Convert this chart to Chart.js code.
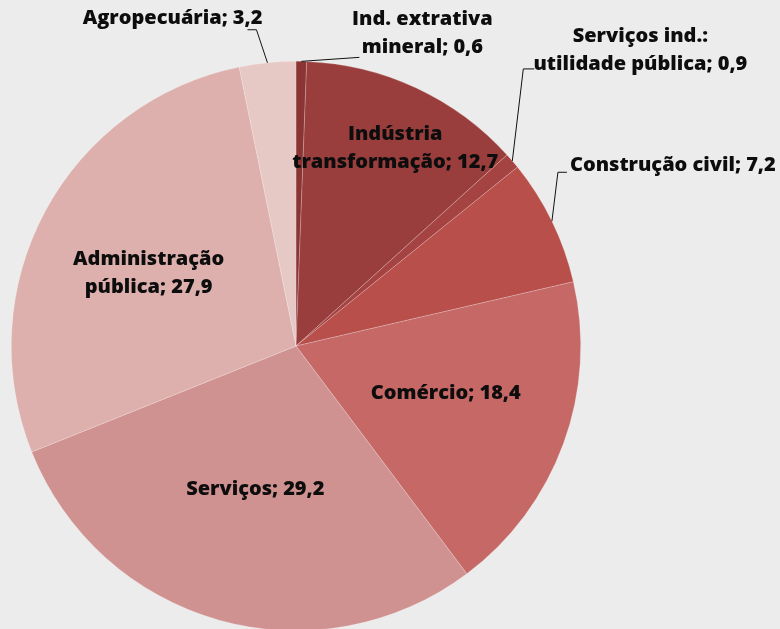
<!DOCTYPE html>
<html>
<head>
<meta charset="utf-8">
<script src="https://cdn.jsdelivr.net/npm/chart.js@4.4.1/dist/chart.umd.min.js"></script>
<style>
  html, body { margin: 0; padding: 0; background: #ebeceb; overflow: hidden; }
  #wrap { position: relative; width: 780px; height: 680px; }
</style>
</head>
<body>
<div id="wrap"><canvas id="pieChart" width="780" height="680"></canvas></div>
<script>
// sectors, clockwise from 12 o'clock
const sectorLines = [
  ['Ind. extrativa', 'mineral'],
  ['Indústria', 'transformação'],
  ['Serviços ind.:', 'utilidade pública'],
  ['Construção civil'],
  ['Comércio'],
  ['Serviços'],
  ['Administração', 'pública'],
  ['Agropecuária']
];
const shares = [0.6, 12.7, 0.9, 7.2, 18.4, 29.2, 27.9, 3.2];
const sliceColors = ['#8b3434', '#993e3c', '#a44341', '#b84f4b', '#c56866', '#d09290', '#ddb0ad', '#e6c8c5'];

// label placement: inside (k = fraction of radius) or outside with a leader line
// offsets are relative to the point where the slice's middle meets the rim
const labelPlaces = [
  { out: true, bend: [58, -4], run: 0, text: [121, -28], align: 'center' },
  { k: 0.8, nudge: [3, 9] },
  { out: true, bend: [11, -92], run: 11, text: [128, -111], align: 'center' },
  { out: true, bend: [6, -49], run: 9, text: [18, -56], align: 'left' },
  { k: 0.56, nudge: [0, -7] },
  { k: 0.53, nudge: [0, -2] },
  { k: 0.58, nudge: [-2, 6] },
  { out: true, bend: [-11, -33], run: -9, text: [-5, -44], align: 'right' }
];

const fmt = v => String(v).replace('.', ',');

const pieLabels = {
  id: 'pieLabels',
  afterDatasetsDraw(chart) {
    const ctx = chart.ctx;
    const arcs = chart.getDatasetMeta(0).data;
    ctx.save();
    ctx.font = '800 20px "Open Sans"';
    ctx.fillStyle = '#0d0d0d';
    ctx.strokeStyle = '#111';
    ctx.lineWidth = 1;
    ctx.textBaseline = 'middle';
    const lineH = 28;
    arcs.forEach((arc, i) => {
      const p = arc.getProps(['x', 'y', 'startAngle', 'endAngle', 'outerRadius'], true);
      const mid = (p.startAngle + p.endAngle) / 2;
      const lines = sectorLines[i].slice();
      lines[lines.length - 1] += '; ' + fmt(shares[i]);
      const pl = labelPlaces[i];
      let cx, cy;
      if (pl.out) {
        const ex = p.x + Math.cos(mid) * p.outerRadius;
        const ey = p.y + Math.sin(mid) * p.outerRadius;
        const bx = ex + pl.bend[0], by = ey + pl.bend[1];
        ctx.beginPath();
        ctx.moveTo(ex, ey);
        ctx.lineTo(bx, by);
        ctx.lineTo(bx + pl.run, by);
        ctx.stroke();
        cx = ex + pl.text[0];
        cy = ey + pl.text[1];
        ctx.textAlign = pl.align;
      } else {
        cx = p.x + Math.cos(mid) * p.outerRadius * pl.k + pl.nudge[0];
        cy = p.y + Math.sin(mid) * p.outerRadius * pl.k + pl.nudge[1];
        ctx.textAlign = 'center';
      }
      const top = cy - (lines.length - 1) * lineH / 2;
      lines.forEach((t, j) => ctx.fillText(t, cx, top + j * lineH));
    });
    ctx.restore();
  }
};

new Chart(document.getElementById('pieChart'), {
  type: 'pie',
  data: {
    labels: sectorLines.map(l => l.join(' ')),
    datasets: [{
      data: shares,
      backgroundColor: sliceColors,
      borderColor: 'rgba(255,255,255,0.35)',
      borderWidth: 0.6
    }]
  },
  options: {
    responsive: false,
    animation: false,
    layout: { padding: { left: 11, top: 61, right: 199, bottom: 49 } },
    plugins: {
      legend: { display: false },
      tooltip: { enabled: false }
    }
  },
  plugins: [pieLabels]
});
</script>
</body>
</html>
